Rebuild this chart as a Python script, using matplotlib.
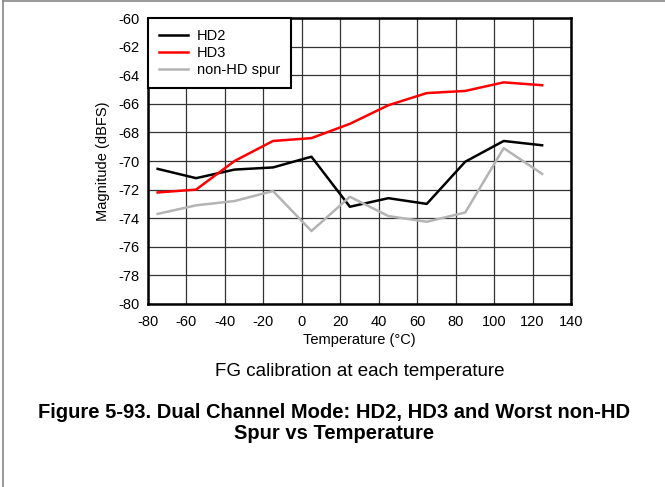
import matplotlib
matplotlib.use("Agg")
import matplotlib.pyplot as plt
from matplotlib.lines import Line2D

plt.rcParams['font.family'] = ['Liberation Sans', 'DejaVu Sans']
plt.rcParams['axes.unicode_minus'] = False

# temperatures (deg C) and measured spurs (dBFS)
temps = [-75, -55, -35, -15, 5, 25, 45, 65, 85, 105, 125]
hd2 = [-70.55, -71.2, -70.6, -70.45, -69.7, -73.2, -72.6, -73.0, -70.05, -68.6, -68.9]
hd3 = [-72.2, -72.0, -70.0, -68.6, -68.4, -67.4, -66.1, -65.25, -65.1, -64.5, -64.7]
spur = [-73.7, -73.1, -72.8, -72.1, -74.9, -72.5, -73.85, -74.25, -73.6, -69.1, -70.9]

x_ticks = list(range(-80, 141, 20))
y_ticks = list(range(-80, -59, 2))

fig = plt.figure(figsize=(6.65, 4.87), dpi=100)
ax = fig.add_axes([0.2226, 0.3758, 0.6360, 0.5872])

ax.plot(temps, hd2, color='black', lw=1.8, label='HD2', zorder=3)
ax.plot(temps, hd3, color='#ff0000', lw=1.8, label='HD3', zorder=3)
ax.plot(temps, spur, color='#b4b4b4', lw=1.8, label='non-HD spur', zorder=3)

ax.set_xlim(-80, 140)
ax.set_ylim(-80, -60)
ax.set_xticks(x_ticks)
ax.set_yticks(y_ticks)
ax.tick_params(axis='x', labelsize=10.5, length=0, pad=8)
ax.tick_params(axis='y', labelsize=10.5, length=0, pad=6)
ax.grid(True, color='#333333', lw=0.9)
ax.set_axisbelow(True)
for s in ax.spines.values():
    s.set_linewidth(1.8)
    s.set_color('black')

ax.set_xlabel('Temperature (°C)', fontsize=10.5, labelpad=3)
ax.set_ylabel('Magnitude (dBFS)', fontsize=10.5, labelpad=6)

leg = ax.legend(loc='upper left', fontsize=10.5, frameon=True, fancybox=False,
                borderaxespad=0, handlelength=2.0, handletextpad=0.6,
                labelspacing=0.2, borderpad=0.75, framealpha=1)
leg.get_frame().set_edgecolor('black')
leg.get_frame().set_linewidth(1.5)
leg.set_zorder(5)

fig.text(0.541, 0.238, 'FG calibration at each temperature', fontsize=13.5,
         ha='center', va='center')
fig.text(0.502, 0.131, 'Figure 5-93. Dual Channel Mode: HD2, HD3 and Worst non-HD\nSpur vs Temperature',
         fontsize=14.5, fontweight='bold', ha='center', va='center', linespacing=1.15)

# partial page frame (left and top)
fig.add_artist(Line2D([0.005, 0.005], [0, 0.998], color='#888888', lw=1.2,
                      transform=fig.transFigure))
fig.add_artist(Line2D([0.005, 1], [0.998, 0.998], color='#888888', lw=1.2,
                      transform=fig.transFigure))

fig.savefig('out.png', dpi=100)
